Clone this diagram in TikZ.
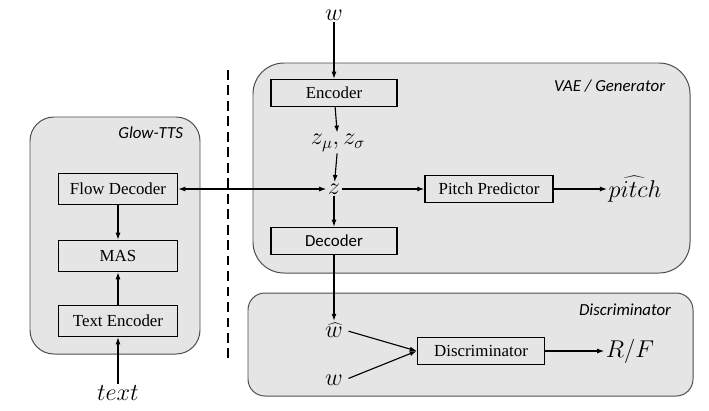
\documentclass[tikz,border=0pt]{standalone}
\usepackage{fontspec}
\setmainfont{Liberation Serif}
\newfontfamily\calibri{Carlito}
\usetikzlibrary{arrows.meta}

\tikzset{
  grp/.style={draw=black!70, fill=black!10, line width=0.7pt},
  blk/.style={draw, fill=black!10, line width=0.9pt, minimum width=3.15cm, minimum height=0.68cm,
    inner sep=0pt, font=\fontsize{12}{14}\selectfont},
  grplbl/.style={font=\calibri\itshape\fontsize{12}{14}\selectfont, anchor=east},
  var/.style={font=\fontsize{17}{20}\selectfont, inner sep=1pt},
  arr/.style={-{Latex[length=5pt,width=3.5pt]}, line width=0.8pt},
}

\begin{document}
\begin{tikzpicture}[x=0.025cm,y=-0.025cm]
  \useasboundingbox (0,0) rectangle (709,410);

  % groups
  \draw[grp, rounded corners=17pt] (30,117) rectangle (200,354);
  \draw[grp, rounded corners=22pt] (253,63) rectangle (690,273);
  \draw[grp, rounded corners=12pt] (248,293) rectangle (693,396);
  \node[grplbl] at (188,133) {Glow-TTS};
  \node[grplbl] at (670,86) {VAE / Generator};
  \node[grplbl] at (676,310) {Discriminator};

  \draw[dashed, line width=1.2pt, dash pattern=on 7pt off 4pt] (228,70) -- (228,362);

  % glow-tts
  \node[blk, minimum width=2.98cm, minimum height=0.78cm] (fdec) at (118,189) {Flow Decoder};
  \node[blk, minimum width=2.98cm, minimum height=0.78cm] (mas) at (118,256) {MAS};
  \node[blk, minimum width=2.98cm, minimum height=0.78cm] (tenc) at (118,321) {Text Encoder};
  \node[var] (text) at (118,393) {$text$};

  % vae / generator
  \node[var] (win) at (334,15) {$w$};
  \node[blk] (enc) at (334,93) {Encoder};
  \node[var] (zms) at (338,143) {$z_\mu, z_\sigma$};
  \node[var] (z) at (334,189) {$z$};
  \node[blk] (dec) at (334,241) {\calibri Decoder};
  \node[blk, minimum width=3.2cm] (pitchp) at (489,189) {Pitch Predictor};
  \node[var] (pitch) at (635,189) {$\widehat{pitch}$};

  % discriminator
  \node[var] (what) at (334,330) {$\widehat{w}$};
  \node[var] (wreal) at (334,380) {$w$};
  \node[blk, minimum width=3.18cm] (disc) at (481,351) {Discriminator};
  \node[var] (rf) at (630,351) {$R/F$};

  \draw[arr] (text) -- (tenc);
  \draw[arr] (tenc) -- (mas);
  \draw[arr] (fdec) -- (mas);
  \draw[arr, {Latex[length=5pt,width=3.5pt]}-{Latex[length=5pt,width=3.5pt]}] (fdec) -- (z);
  \draw[arr] (win) -- (enc);
  \draw[arr] (enc) -- (zms);
  \draw[arr] (zms) -- (z);
  \draw[arr] (z) -- (dec);
  \draw[arr] (z) -- (pitchp);
  \draw[arr] (pitchp) -- (pitch);
  \draw[arr] (dec) -- (what);
  \draw[arr, shorten <=3pt] (what.east) -- (disc.west);
  \draw[arr, shorten <=3pt] (wreal.east) -- (disc.west);
  \draw[arr] (disc) -- (rf);
\end{tikzpicture}
\end{document}
